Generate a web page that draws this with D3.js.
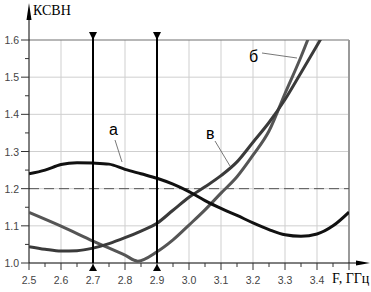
<!DOCTYPE html>
<html lang="ru">
<head>
<meta charset="UTF-8">
<title>КСВН</title>
<script src="https://d3js.org/d3.v7.min.js"></script>
<style>
  body { margin: 0; background: #fff; }
  .tick-label { font-family: "Liberation Sans", Arial, sans-serif; font-size: 10.5px; fill: #444; }
  .axis-title { font-family: "Liberation Serif", "Times New Roman", serif; font-size: 14px; fill: #000; }
  .curve-label { font-family: "Liberation Sans", Arial, sans-serif; font-size: 16px; fill: #000; }
</style>
</head>
<body>
<svg id="chart"></svg>
<script>
  const width = 371, height = 292;

  // data
  const xTicks = [2.5, 2.6, 2.7, 2.8, 2.9, 3.0, 3.1, 3.2, 3.3, 3.4];
  const yTicks = [1.0, 1.1, 1.2, 1.3, 1.4, 1.5, 1.6];
  const markers = [2.7, 2.9];
  const threshold = 1.2;

  const curveA = [[2.5,1.24],[2.55,1.25],[2.6,1.265],[2.65,1.27],[2.7,1.269],[2.75,1.266],[2.8,1.252],
    [2.85,1.24],[2.9,1.228],[2.95,1.212],[3.0,1.192],[3.05,1.168],[3.1,1.147],[3.15,1.128],[3.2,1.108],
    [3.25,1.09],[3.3,1.076],[3.35,1.072],[3.4,1.078],[3.45,1.1],[3.5,1.137]];
  const curveB = [[2.5,1.136],[2.6,1.099],[2.7,1.059],[2.8,1.021],[2.84,1.005],[2.9,1.03],[2.95,1.062],
    [3.0,1.102],[3.05,1.143],[3.1,1.188],[3.15,1.232],[3.2,1.29],[3.25,1.355],[3.3,1.456],[3.35,1.555],[3.38,1.62]];
  const curveV = [[2.5,1.044],[2.55,1.037],[2.6,1.032],[2.65,1.033],[2.7,1.04],[2.75,1.052],[2.8,1.068],
    [2.85,1.086],[2.9,1.107],[2.95,1.142],[3.0,1.177],[3.05,1.205],[3.1,1.235],[3.15,1.272],[3.2,1.325],
    [3.25,1.378],[3.3,1.44],[3.35,1.512],[3.4,1.585],[3.43,1.63]];

  const svg = d3.select("#chart").attr("width", width).attr("height", height);

  const x = d3.scaleLinear().domain([2.5, 3.5]).range([29, 349]);
  const y = d3.scaleLinear().domain([1.0, 1.6]).range([263, 40]);

  // grid
  const grid = svg.append("g").attr("stroke", "#cfcfcf").attr("stroke-width", 1);
  xTicks.slice(1).forEach(t => grid.append("line")
    .attr("x1", x(t)).attr("x2", x(t)).attr("y1", y(1.6)).attr("y2", y(1.0)));
  yTicks.slice(1, -1).forEach(t => grid.append("line")
    .attr("x1", x(2.5)).attr("x2", x(3.5)).attr("y1", y(t)).attr("y2", y(t)));

  // frame top and right
  svg.append("line").attr("x1", x(2.5)).attr("x2", x(3.5)).attr("y1", y(1.6)).attr("y2", y(1.6))
    .attr("stroke", "#707070").attr("stroke-width", 1.2);
  svg.append("line").attr("x1", x(3.5)).attr("x2", x(3.5)).attr("y1", y(1.6)).attr("y2", y(1.0))
    .attr("stroke", "#9a9a9a").attr("stroke-width", 2);

  // threshold
  svg.append("line").attr("x1", x(2.5)).attr("x2", x(3.5)).attr("y1", y(threshold)).attr("y2", y(threshold))
    .attr("stroke", "#555").attr("stroke-width", 1).attr("stroke-dasharray", "10,5");

  // axes with arrows
  const axes = svg.append("g").attr("stroke", "#000");
  axes.append("line").attr("x1", x(2.5)).attr("x2", 362).attr("y1", y(1.0)).attr("y2", y(1.0)).attr("stroke-width", 1);
  axes.append("line").attr("x1", x(2.5)).attr("x2", x(2.5)).attr("y1", y(1.0)).attr("y2", 12).attr("stroke-width", 1);
  svg.append("path").attr("d", `M370,${y(1.0)} L356,${y(1.0) - 2.5} L356,${y(1.0) + 2.5} Z`).attr("fill", "#000");
  svg.append("path").attr("d", `M${x(2.5)},3 L${x(2.5) - 2.5},20 L${x(2.5) + 2.5},20 Z`).attr("fill", "#000");

  // x ticks
  d3.range(2.5, 3.5001, 0.05).forEach((t, i) => {
    const major = i % 2 === 0;
    axes.append("line").attr("x1", x(t)).attr("x2", x(t)).attr("y1", y(1.0))
      .attr("y2", y(1.0) + (major ? 7 : 4)).attr("stroke", "#333");
  });
  svg.append("g").selectAll("text").data(xTicks).join("text")
    .attr("class", "tick-label").attr("x", d => x(d)).attr("y", 284)
    .attr("text-anchor", "middle").text(d => d.toFixed(1));

  // y ticks
  d3.range(1.0, 1.6001, 0.05).forEach((t, i) => {
    const major = i % 2 === 0;
    axes.append("line").attr("x1", x(2.5) - (major ? 8 : 4)).attr("x2", x(2.5))
      .attr("y1", y(t)).attr("y2", y(t)).attr("stroke", "#333");
  });
  svg.append("g").selectAll("text").data(yTicks).join("text")
    .attr("class", "tick-label").attr("x", 19).attr("y", d => y(d) + 4)
    .attr("text-anchor", "end").text(d => d.toFixed(1));

  svg.append("text").attr("class", "axis-title").attr("x", 33).attr("y", 15).text("КСВН");
  svg.append("text").attr("class", "axis-title").attr("x", 332).attr("y", 283).text("F, ГГц");

  // curves
  svg.append("clipPath").attr("id", "plot").append("rect")
    .attr("x", x(2.5)).attr("y", y(1.6)).attr("width", x(3.5) - x(2.5)).attr("height", y(1.0) - y(1.6));
  const line = d3.line().x(d => x(d[0])).y(d => y(d[1])).curve(d3.curveMonotoneX);
  const curves = svg.append("g").attr("clip-path", "url(#plot)").attr("fill", "none")
    .attr("stroke-width", 3).attr("stroke-linejoin", "round");
  curves.append("path").datum(curveB).attr("d", line).attr("stroke", "#555");
  curves.append("path").datum(curveV).attr("d", line).attr("stroke", "#3a3a3a");
  curves.append("path").datum(curveA).attr("d", line).attr("stroke", "#111");

  // frequency markers
  markers.forEach(m => {
    svg.append("line").attr("x1", x(m)).attr("x2", x(m)).attr("y1", 36).attr("y2", y(1.0))
      .attr("stroke", "#000").attr("stroke-width", 2);
    svg.append("path").attr("d", `M${x(m) - 4},32 L${x(m) + 4},32 L${x(m)},40 Z`).attr("fill", "#000");
    svg.append("path").attr("d", `M${x(m) - 4},271 L${x(m) + 4},271 L${x(m)},264 Z`).attr("fill", "#000");
  });

  // curve labels
  const labels = [
    { t: "а", lx: 109, ly: 135, p: [[115, 140], [122, 162]] },
    { t: "в", lx: 206, ly: 139, p: [[215, 141], [230, 166]] },
    { t: "б", lx: 249, ly: 62, p: [[262, 53], [297, 58]] }
  ];
  labels.forEach(l => {
    svg.append("line").attr("x1", l.p[0][0]).attr("y1", l.p[0][1]).attr("x2", l.p[1][0]).attr("y2", l.p[1][1])
      .attr("stroke", "#555").attr("stroke-width", 0.8);
    svg.append("text").attr("class", "curve-label").attr("x", l.lx).attr("y", l.ly).text(l.t);
  });
</script>
</body>
</html>
